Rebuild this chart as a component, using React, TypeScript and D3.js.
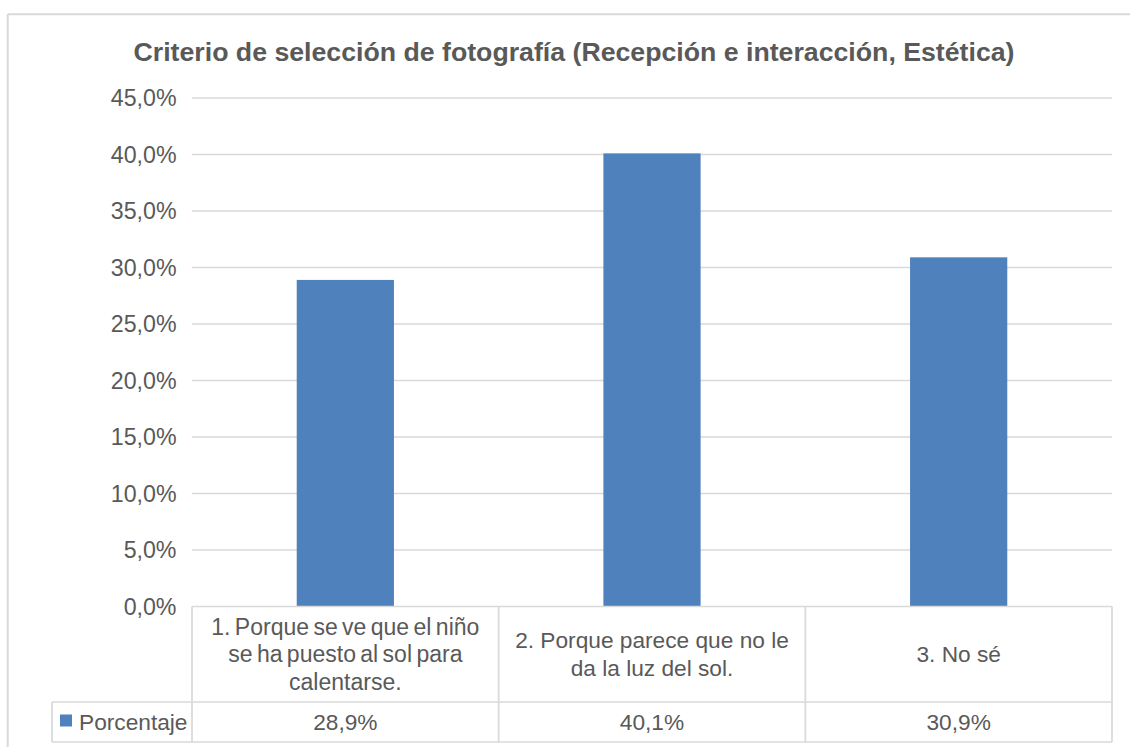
import React from "react";
import * as d3 from "d3";

const title = "Criterio de selección de fotografía (Recepción e interacción, Estética)";
const categories = ["c1", "c2", "c3"];
const categoryLines = [
  ["1. Porque se ve que el niño", "se ha puesto al sol para", "calentarse."],
  ["2. Porque parece que no le", "da la luz del sol."],
  ["3. No sé"],
];
const seriesName = "Porcentaje";
const values = [28.9, 40.1, 30.9];
const yTicks = [0, 5, 10, 15, 20, 25, 30, 35, 40, 45];

const fmt = (v: number) => v.toFixed(1).replace(".", ",") + "%";

const FONT = "'Liberation Sans', Arial, sans-serif";
const TEXT = "#595959";
const GRID = "#D9D9D9";
const BAR = "#4F81BD";

export default function App() {
  const left = 192, right = 1112, top = 98, bottom = 606.5;
  const y = d3.scaleLinear().domain([0, 45]).range([bottom, top]);
  const x = d3.scaleBand<string>().domain(categories).range([left, right]).padding(0);
  const bw = x.bandwidth() * 0.317;
  const headerBottom = 702;
  const rowBottom = 742;
  const legendLeft = 52;
  const fs = 22.7;
  const lh = 27.5;
  const headerMid = (bottom + headerBottom) / 2;

  return (
    <svg width={1130} height={747} style={{ position: "absolute", left: 0, top: 0, background: "#fff" }} fontFamily={FONT}>
      <rect x={0} y={0} width={1130} height={747} fill="#fff" />
      <line x1={7.7} y1={14.3} x2={1130} y2={14.3} stroke={GRID} strokeWidth={2} />
      <line x1={7.7} y1={14.3} x2={7.7} y2={747} stroke={GRID} strokeWidth={2} />
      <text x={574} y={61} textAnchor="middle" fontSize={26.7} fontWeight="bold" fill={TEXT}>{title}</text>
      {yTicks.map((t) => (
        <g key={t}>
          {t > 0 && <line x1={left} x2={right} y1={y(t)} y2={y(t)} stroke={GRID} strokeWidth={1.7} />}
          <text x={176.5} y={y(t)} dy="0.35em" textAnchor="end" fontSize={23.2} fill={TEXT}>{fmt(t)}</text>
        </g>
      ))}
      {categories.map((c, i) => (
        <rect key={c} x={x(c)! + x.bandwidth() / 2 - bw / 2} y={y(values[i])} width={bw} height={y(0) - y(values[i])} fill={BAR} />
      ))}
      {/* table */}
      <line x1={left} x2={right} y1={bottom} y2={bottom} stroke={GRID} strokeWidth={1.7} />
      <line x1={legendLeft} x2={right} y1={headerBottom} y2={headerBottom} stroke={GRID} strokeWidth={1.7} />
      <line x1={legendLeft} x2={right} y1={rowBottom} y2={rowBottom} stroke={GRID} strokeWidth={1.7} />
      <line x1={legendLeft} x2={legendLeft} y1={headerBottom} y2={rowBottom} stroke={GRID} strokeWidth={1.7} />
      {[...categories.map((c) => x(c)!), right].map((xx, i) => (
        <line key={i} x1={xx} x2={xx} y1={bottom} y2={rowBottom} stroke={GRID} strokeWidth={1.7} />
      ))}
      {categories.map((c, i) => {
        const lines = categoryLines[i];
        const cx = x(c)! + x.bandwidth() / 2;
        const startY = headerMid - ((lines.length - 1) * lh) / 2;
        return (
          <g key={c}>
            {lines.map((ln, j) => (
              <text key={j} x={cx} y={startY + j * lh} dy="0.35em" textAnchor="middle" fontSize={i === 0 ? 23 : fs} fill={TEXT}
                wordSpacing={i === 0 ? -2 : 0}>{ln}</text>
            ))}
            <text x={cx} y={(headerBottom + rowBottom) / 2} dy="0.35em" textAnchor="middle" fontSize={fs} fill={TEXT}>{fmt(values[i])}</text>
          </g>
        );
      })}
      <rect x={60} y={714.5} width={12} height={12} fill={BAR} />
      <text x={79} y={(headerBottom + rowBottom) / 2} dy="0.35em" fontSize={fs} fill={TEXT}>{seriesName}</text>
    </svg>
  );
}
